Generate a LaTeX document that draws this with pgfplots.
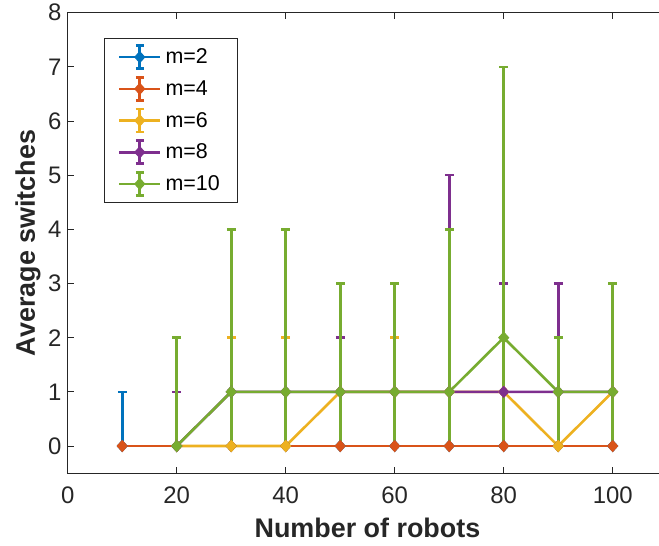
\documentclass[border=0pt]{standalone}
\usepackage{fontspec}
\setmainfont{Liberation Sans}
\usepackage{pgfplots}
\usepackage{pgfplotstable}
\pgfplotsset{compat=1.18}

\definecolor{mblue}{rgb}{0,0.447,0.741}
\definecolor{morange}{rgb}{0.85,0.325,0.098}
\definecolor{myellow}{rgb}{0.929,0.694,0.125}
\definecolor{mpurple}{rgb}{0.494,0.184,0.556}
\definecolor{mgreen}{rgb}{0.466,0.674,0.188}
\definecolor{axgray}{rgb}{0.15,0.15,0.15}

% mean switches, with distance to max (ep) and to min (em)
\pgfplotstableread{
x   y  ep em
10  0  1  0
20  0  0  0
30  0  0  0
40  0  0  0
50  0  0  0
60  0  0  0
70  0  0  0
80  0  0  0
90  0  0  0
100 0  0  0
}\mtwo
\pgfplotstableread{
x   y  ep em
10  0  0  0
20  0  0  0
30  0  0  0
40  0  0  0
50  0  0  0
60  0  0  0
70  0  0  0
80  0  0  0
90  0  0  0
100 0  0  0
}\mfour
\pgfplotstableread{
x   y  ep em
20  0  1  0
30  0  2  0
40  0  2  0
50  1  1  1
60  1  1  1
70  1  0  1
80  1  1  1
90  0  2  0
100 1  0  1
}\msix
\pgfplotstableread{
x   y  ep em
20  0  1  0
30  1  0  1
40  1  0  1
50  1  1  1
60  1  0  1
70  1  4  1
80  1  2  1
90  1  2  1
100 1  2  1
}\meight
\pgfplotstableread{
x   y  ep em
20  0  2  0
30  1  3  1
40  1  3  1
50  1  2  1
60  1  2  1
70  1  3  1
80  2  5  2
90  1  1  1
100 1  2  1
}\mten

\pgfplotsset{
  ebar/.style={
    line width=2.6bp,
    mark=diamond*,
    mark size=5.5bp,
    mark options={solid, xscale=1.2, line width=1bp},
    error bars/y dir=both,
    error bars/y explicit,
    error bars/error bar style={line width=2.6bp},
    error bars/error mark options={rotate=90, line width=2.6bp, mark size=4.3bp},
  },
}

\begin{document}
\begin{tikzpicture}
\begin{axis}[
  scale only axis,
  width=599.5bp, height=460.4bp,
  xmin=0, xmax=110, ymin=-0.5, ymax=8,
  xtick={0,20,...,100}, ytick={0,1,...,8},
  tick align=inside,
  major tick length=6bp,
  axis line style={axgray, line width=0.9bp},
  every tick/.style={axgray, line width=0.9bp},
  tick label style={font=\fontsize{24}{28}\selectfont, text=axgray},
  /pgf/number format/assume math mode=true,
  xticklabel style={yshift=-10bp},
  yticklabel style={xshift=-2.7bp},
  xlabel={Number of robots},
  ylabel={Average switches},
  xlabel style={font=\bfseries\fontsize{27}{31}\selectfont, text=axgray,
    at={(axis description cs:0.5,-0.12)}, anchor=center},
  ylabel style={font=\bfseries\fontsize{27}{31}\selectfont, text=axgray,
    at={(axis description cs:-0.0662,0.5)}, anchor=center},
  legend cell align=left,
  legend style={
    at={(0.061,0.944)}, anchor=north west,
    draw=axgray, line width=0.6bp, fill=white,
    inner xsep=13.4bp, inner ysep=2.5bp,
    font=\fontsize{21.5}{25}\selectfont,
    nodes={inner xsep=4bp, inner ysep=0bp, minimum height=31.7bp},
    row sep=0pt,
  },
  legend image code/.code={
    \draw[#1, mark=none] (20.5bp,-11.5bp) -- (20.5bp,11.5bp);
    \draw[#1, mark=none] (16.5bp,11.5bp) -- (24.5bp,11.5bp);
    \draw[#1, mark=none] (16.5bp,-11.5bp) -- (24.5bp,-11.5bp);
    \draw[mark repeat=2, mark phase=2, #1]
      plot coordinates {(0bp,0bp) (20.5bp,0bp) (41bp,0bp)};
  },
]
\addplot[ebar, color=mblue]   table[x=x, y=y, y error plus=ep, y error minus=em] {\mtwo};
\addlegendentry{m=2}
\addplot[ebar, color=morange] table[x=x, y=y, y error plus=ep, y error minus=em] {\mfour};
\addlegendentry{m=4}
\addplot[ebar, color=myellow] table[x=x, y=y, y error plus=ep, y error minus=em] {\msix};
\addlegendentry{m=6}
\addplot[ebar, color=mpurple] table[x=x, y=y, y error plus=ep, y error minus=em] {\meight};
\addlegendentry{m=8}
\addplot[ebar, color=mgreen]  table[x=x, y=y, y error plus=ep, y error minus=em] {\mten};
\addlegendentry{m=10}
\end{axis}
\pgfresetboundingbox
\useasboundingbox (-67.7bp,-72.9bp) rectangle (591.3bp,473.1bp);
\end{tikzpicture}
\end{document}
